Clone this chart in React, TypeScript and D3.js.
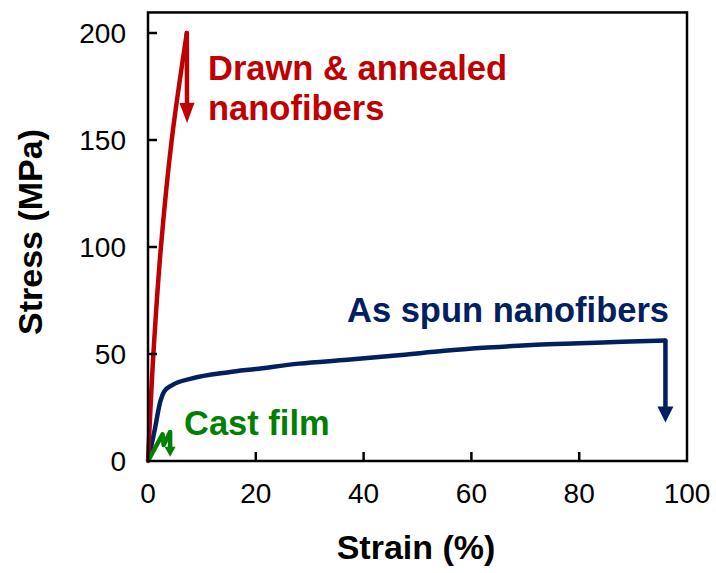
import React from "react";
import * as d3 from "d3";

// ---- data ----
const xTicks = [0, 20, 40, 60, 80, 100];
const yTicks = [0, 50, 100, 150, 200];

const drawnStrain = [0, 1.0, 2.4, 4.4, 7.2];
const drawnStress = [0, 50, 100, 150, 200];
const drawnBreak = [7.25, 158];

const spunStrain = [0, 1.2, 2.3, 3.0, 4.5, 8, 15, 20, 28, 37, 47, 55, 63, 72, 80, 88, 96];
const spunStress = [0, 14, 28, 32.5, 35.5, 38.5, 41.5, 43, 45.5, 47.3, 49.5, 51.5, 53, 54.3, 55, 55.7, 56.3];
const spunBreak = [96, 18];

const castStrain = [0, 2.7, 2.9, 4.1];
const castStress = [0, 12.5, 7.5, 13.5];
const castBreak = [4.1, 2];

const labels = ["Drawn & annealed", "nanofibers", "As spun nanofibers", "Cast film"];

const RED = "#C00000";
const BLUE = "#002060";
const GREEN = "#008000";
const FONT = "'Liberation Sans', Arial, sans-serif";

export default function App() {
  const W = 716, H = 573;
  const x = d3.scaleLinear().domain([0, 100]).range([148, 687]);
  const y = d3.scaleLinear().domain([0, 200]).range([461, 33]);
  const yTop = y(209.6);

  const line = d3.line<[number, number]>().x(d => x(d[0])).y(d => y(d[1])).curve(d3.curveMonotoneX);
  const lineSmooth = d3.line<[number, number]>().x(d => x(d[0])).y(d => y(d[1])).curve(d3.curveCatmullRom);
  const lineLin = d3.line<[number, number]>().x(d => x(d[0])).y(d => y(d[1]));

  const pts = (xs: number[], ys: number[]) => xs.map((v, i) => [v, ys[i]] as [number, number]);

  const arrow = (from: [number, number], to: [number, number], color: string, headLen: number, headW: number, sw: number) => {
    const x1 = x(from[0]), y1 = y(from[1]), x2 = x(to[0]), y2 = y(to[1]);
    const ang = Math.atan2(y2 - y1, x2 - x1);
    const bx = x2 - headLen * Math.cos(ang), by = y2 - headLen * Math.sin(ang);
    const px = -Math.sin(ang) * headW / 2, py = Math.cos(ang) * headW / 2;
    return (
      <g>
        <line x1={x1} y1={y1} x2={bx} y2={by} stroke={color} strokeWidth={sw} strokeLinecap="round" />
        <polygon points={`${x2},${y2} ${bx + px},${by + py} ${bx - px},${by - py}`} fill={color} />
      </g>
    );
  };

  const drawn = pts(drawnStrain, drawnStress);
  const spun = pts(spunStrain, spunStress);
  const cast = pts(castStrain, castStress);

  return (
    <svg width={W} height={H} style={{ position: "absolute", left: 0, top: 0, background: "#fff" }} fontFamily={FONT}>
      {/* curves */}
      <path d={line(spun) || ""} fill="none" stroke={BLUE} strokeWidth={4.5} strokeLinejoin="round" />
      {arrow(spun[spun.length - 1], spunBreak as [number, number], BLUE, 16, 16, 4.5)}
      <path d={lineSmooth(drawn) || ""} fill="none" stroke={RED} strokeWidth={4.5} strokeLinejoin="round" strokeLinecap="round" />
      {arrow(drawn[drawn.length - 1], drawnBreak as [number, number], RED, 20, 15, 4.5)}
      <path d={lineLin(cast) || ""} fill="none" stroke={GREEN} strokeWidth={4.5} strokeLinejoin="round" />
      {arrow(cast[cast.length - 1], castBreak as [number, number], GREEN, 10, 11, 4.5)}

      {/* frame */}
      <rect x={x(0)} y={yTop} width={x(100) - x(0)} height={y(0) - yTop} fill="none" stroke="#000" strokeWidth={2.5} />
      {xTicks.slice(1, -1).map(t => (
        <line key={"xt" + t} x1={x(t)} x2={x(t)} y1={y(0)} y2={y(0) - 9} stroke="#000" strokeWidth={2.5} />
      ))}
      {yTicks.slice(1).map(t => (
        <line key={"yt" + t} x1={x(0)} x2={x(0) + 9} y1={y(t)} y2={y(t)} stroke="#000" strokeWidth={2.5} />
      ))}
      {xTicks.map(t => (
        <text key={"xl" + t} x={x(t)} y={503} textAnchor="middle" fontSize={28} fill="#000">{t}</text>
      ))}
      {yTicks.map(t => (
        <text key={"yl" + t} x={126} y={y(t)} dy="0.35em" textAnchor="end" fontSize={28} fill="#000">{t}</text>
      ))}

      {/* axis titles */}
      <text x={416} y={559} textAnchor="middle" fontSize={34} fontWeight="bold" fill="#000">Strain (%)</text>
      <text transform="translate(42,232) rotate(-90)" textAnchor="middle" fontSize={34} fontWeight="bold" fill="#000">Stress (MPa)</text>

      {/* annotations */}
      <text x={208} y={80} fontSize={34.5} fontWeight="bold" fill={RED}>{labels[0]}</text>
      <text x={208} y={120} fontSize={34.5} fontWeight="bold" fill={RED}>{labels[1]}</text>
      <text x={347} y={322} fontSize={34.5} fontWeight="bold" fill={BLUE}>{labels[2]}</text>
      <text x={184} y={435} fontSize={34.5} fontWeight="bold" fill={GREEN}>{labels[3]}</text>
    </svg>
  );
}
